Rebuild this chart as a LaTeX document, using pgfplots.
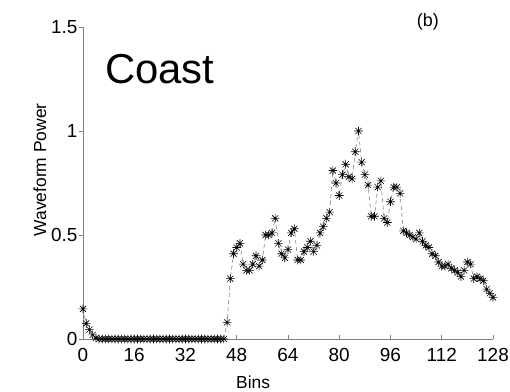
\documentclass[border=0pt]{standalone}
\usepackage{fontspec}
\setmainfont{Liberation Sans}
\usepackage{pgfplots}
\pgfplotsset{compat=1.18}
\pgfdeclareplotmark{ast8}{%
  \pgfpathmoveto{\pgfqpoint{-\pgfplotmarksize}{0pt}}\pgfpathlineto{\pgfqpoint{\pgfplotmarksize}{0pt}}%
  \pgfpathmoveto{\pgfqpoint{0pt}{-\pgfplotmarksize}}\pgfpathlineto{\pgfqpoint{0pt}{\pgfplotmarksize}}%
  \pgfpathmoveto{\pgfqpoint{-0.707\pgfplotmarksize}{-0.707\pgfplotmarksize}}\pgfpathlineto{\pgfqpoint{0.707\pgfplotmarksize}{0.707\pgfplotmarksize}}%
  \pgfpathmoveto{\pgfqpoint{-0.707\pgfplotmarksize}{0.707\pgfplotmarksize}}\pgfpathlineto{\pgfqpoint{0.707\pgfplotmarksize}{-0.707\pgfplotmarksize}}%
  \pgfusepathqstroke}
\begin{document}
\begin{tikzpicture}
\path[use as bounding box] (-83bp,-53bp) rectangle (427bp,339bp);
\begin{axis}[
  at={(0,0)}, anchor=south west,
  scale only axis, width=410bp, height=312bp,
  xmin=0, xmax=128, ymin=0, ymax=1.5,
  axis lines*=left,
  clip=false,
  xtick={0,16,32,48,64,80,96,112,128},
  ytick={0,0.5,1,1.5},
  yticklabels={0,0.5,1,1.5},
  /pgf/number format/assume math mode=true,
  tick label style={font=\fontsize{19}{19}\selectfont},
  xticklabel style={yshift=-6bp},
  yticklabel style={xshift=-2bp},
  tick align=inside,
  major tick length=4bp,
  ytick style={xshift=-4bp},
  axis line style={gray, line width=0.7bp},
  tick style={gray, line width=0.7bp},
  xlabel={Bins}, ylabel={Waveform Power},
  label style={font=\fontsize{17.5}{17.5}\selectfont},
  xlabel style={at={(rel axis cs:0.415,0)}, anchor=base, yshift=-49bp},
  ylabel style={at={(rel axis cs:-0.105,0.542)}, anchor=center},
]
\addplot[gray, dash pattern=on 4bp off 3bp, line width=0.6bp,
  mark=ast8, mark size=4.3bp, mark options={black, solid, line width=0.6bp}]
  table {
x y
0 0.145
1 0.075
2 0.045
3 0.02
4 0.005
5 0
6 0
7 0
8 0
9 0
10 0
11 0
12 0
13 0
14 0
15 0
16 0
17 0
18 0
19 0
20 0
21 0
22 0
23 0
24 0
25 0
26 0
27 0
28 0
29 0
30 0
31 0
32 0
33 0
34 0
35 0
36 0
37 0
38 0
39 0
40 0
41 0
42 0
43 0
44 0
45 0.08
46 0.29
47 0.41
48 0.44
49 0.46
50 0.36
51 0.33
52 0.33
53 0.36
54 0.40
55 0.35
56 0.38
57 0.50
58 0.50
59 0.51
60 0.58
61 0.46
62 0.41
63 0.39
64 0.43
65 0.51
66 0.53
67 0.38
68 0.38
69 0.42
70 0.44
71 0.47
72 0.42
73 0.45
74 0.51
75 0.54
76 0.58
77 0.61
78 0.81
79 0.75
80 0.69
81 0.79
82 0.84
83 0.78
84 0.77
85 0.90
86 1.00
87 0.85
88 0.79
89 0.74
90 0.59
91 0.59
92 0.73
93 0.76
94 0.58
95 0.56
96 0.66
97 0.73
98 0.73
99 0.70
100 0.52
101 0.51
102 0.50
103 0.49
104 0.48
105 0.51
106 0.47
107 0.45
108 0.44
109 0.41
110 0.40
111 0.37
112 0.35
113 0.35
114 0.36
115 0.34
116 0.33
117 0.32
118 0.30
119 0.33
120 0.37
121 0.36
122 0.29
123 0.30
124 0.29
125 0.28
126 0.24
127 0.22
128 0.20
};
\node[anchor=base west, inner sep=0, font=\fontsize{42}{42}\selectfont] at (rel axis cs:0.0537,0.8205) {Coast};
\node[anchor=center, inner sep=0, font=\fontsize{18}{18}\selectfont] at (rel axis cs:0.841,1.016) {(b)};
\end{axis}
\end{tikzpicture}
\end{document}
